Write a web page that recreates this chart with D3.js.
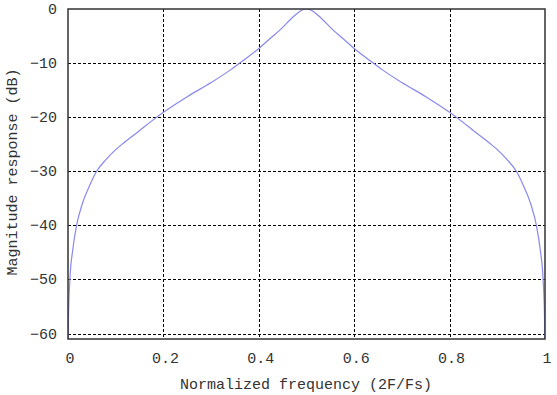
<!DOCTYPE html>
<html>
<head>
<meta charset="utf-8">
<script src="https://cdn.jsdelivr.net/npm/d3@7"></script>
<style>
  body { margin: 0; background: #fff; }
  text { font-family: "Liberation Mono", "DejaVu Sans Mono", monospace; fill: #333; }
</style>
</head>
<body>
<div id="chart"></div>
<script>
// normalized frequency / magnitude (dB)
var freq = [0, 0.001, 0.004, 0.01, 0.018, 0.03, 0.046, 0.06, 0.08, 0.1, 0.116, 0.151, 0.18, 0.2, 0.25, 0.3, 0.34, 0.36, 0.4, 0.423, 0.444, 0.469, 0.485, 0.495, 0.5,
            0.505, 0.515, 0.531, 0.556, 0.577, 0.6, 0.64, 0.66, 0.7, 0.75, 0.8, 0.82, 0.849, 0.884, 0.9, 0.92, 0.94, 0.954, 0.97, 0.982, 0.99, 0.996, 0.999, 1];
var magDb = [-75, -57, -50, -44.5, -40, -36, -32.5, -30, -27.8, -26, -24.8, -22.4, -20.4, -19.1, -16.2, -13.6, -11.3, -10, -7.3, -5.5, -3.9, -1.7, -0.5, -0.05, 0,
             -0.05, -0.5, -1.7, -3.9, -5.5, -7.3, -10, -11.3, -13.6, -16.2, -19.1, -20.4, -22.4, -24.8, -26, -27.8, -30, -32.5, -36, -40, -44.5, -50, -57, -75];
var xTicks = [0, 0.2, 0.4, 0.6, 0.8, 1];
var yTicks = [0, -10, -20, -30, -40, -50, -60];

var W = 557, H = 395;
var margin = {top: 9, right: 12, bottom: 56, left: 68};

var svg = d3.select("#chart").append("svg")
  .attr("width", W)
  .attr("height", H);

var x = d3.scaleLinear().domain([0, 1]).range([margin.left, W - margin.right]);
var y = d3.scaleLinear().domain([-61, 0]).range([H - margin.bottom, margin.top]);

// clip for the curve
svg.append("clipPath").attr("id", "plot")
  .append("rect")
  .attr("x", x(0)).attr("y", y(0))
  .attr("width", x(1) - x(0)).attr("height", y(-61) - y(0));

// grid
svg.append("g")
  .selectAll("line")
  .data(xTicks.slice(1, -1))
  .enter().append("line")
  .attr("x1", function(d) { return Math.round(x(d)) + 0.5; })
  .attr("x2", function(d) { return Math.round(x(d)) + 0.5; })
  .attr("y1", y(0)).attr("y2", y(-61))
  .attr("stroke", "#000").attr("stroke-width", 1)
  .attr("stroke-dasharray", "3,2");

svg.append("g")
  .selectAll("line")
  .data(yTicks.slice(1))
  .enter().append("line")
  .attr("y1", function(d) { return Math.round(y(d)) + 0.5; })
  .attr("y2", function(d) { return Math.round(y(d)) + 0.5; })
  .attr("x1", x(0)).attr("x2", x(1))
  .attr("stroke", "#000").attr("stroke-width", 1)
  .attr("stroke-dasharray", "3,2");

// curve
var line = d3.line()
  .x(function(d, i) { return x(freq[i]); })
  .y(function(d) { return y(d); })
  .curve(d3.curveMonotoneX);

svg.append("path")
  .attr("clip-path", "url(#plot)")
  .attr("d", line(magDb))
  .attr("fill", "none")
  .attr("stroke", "#8888ee")
  .attr("stroke-width", 1.2);

// frame
svg.append("rect")
  .attr("x", x(0)).attr("y", y(0))
  .attr("width", x(1) - x(0)).attr("height", y(-61) - y(0))
  .attr("fill", "none")
  .attr("stroke", "#333")
  .attr("stroke-width", 1.5);

// tick labels
svg.append("g")
  .selectAll("text")
  .data(xTicks)
  .enter().append("text")
  .attr("x", function(d) { return x(d) + 2; })
  .attr("y", 363)
  .attr("text-anchor", "middle")
  .style("font-size", "15px")
  .text(function(d) { return d3.format("")(d); });

svg.append("g")
  .selectAll("text")
  .data(yTicks)
  .enter().append("text")
  .attr("x", 57)
  .attr("y", function(d) { return y(d) + 5; })
  .attr("text-anchor", "end")
  .style("font-size", "15px")
  .text(function(d) { return d === 0 ? "0" : "\u2212" + Math.abs(d); });

// axis titles
svg.append("text")
  .attr("x", 306)
  .attr("y", 389)
  .attr("text-anchor", "middle")
  .style("font-size", "15px")
  .text("Normalized frequency (2F/Fs)");

svg.append("text")
  .attr("transform", "translate(17,172) rotate(-90)")
  .attr("text-anchor", "middle")
  .style("font-size", "15px")
  .text("Magnitude response (dB)");
</script>
</body>
</html>
